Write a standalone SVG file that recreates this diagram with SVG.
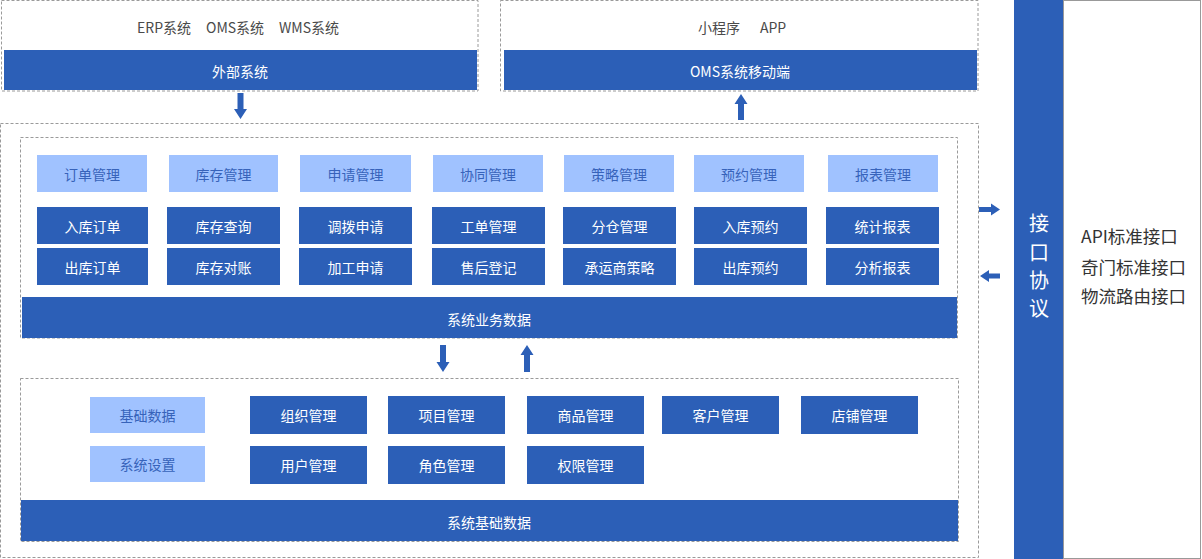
<svg xmlns="http://www.w3.org/2000/svg" width="1202" height="559" viewBox="0 0 1202 559">
<style>
text{font-family:"Noto Sans CJK SC","Liberation Sans",sans-serif;font-size:14px;text-anchor:middle;dominant-baseline:central}
.dash{fill:none;stroke:#9a9a9a;stroke-width:1;stroke-dasharray:3 2}
.b{fill:#2C5FB7}
.l{fill:#A0C2FF}
.bt{fill:#ffffff}
.lt{fill:#3763BA}
.gt{fill:#4a4a4a}
.it{text-anchor:start;font-size:17.5px;fill:#333333}
.vt{fill:#ffffff;font-size:20px}
.arr{fill:#2C5FB7}
</style>
<rect width="1202" height="559" fill="#ffffff"/>

<g id="external">
<rect class="dash" x="1.5" y="0.5" width="476.5" height="90.5"/>
<text class="gt" x="137" y="27" style="text-anchor:start">ERP系统</text>
<text class="gt" x="206" y="27" style="text-anchor:start">OMS系统</text>
<text class="gt" x="279" y="27" style="text-anchor:start">WMS系统</text>
<rect class="b" x="4" y="50" width="473" height="40"/>
<text class="bt" x="240" y="71">外部系统</text>
</g>

<g id="mobile">
<rect class="dash" x="500.5" y="0.5" width="477.5" height="90.5"/>
<text class="gt" x="698" y="27" style="text-anchor:start">小程序</text>
<text class="gt" x="760" y="27" style="text-anchor:start">APP</text>
<rect class="b" x="504" y="50" width="473" height="40"/>
<text class="bt" x="740" y="71">OMS系统移动端</text>
</g>

<g id="protocol">
<rect class="b" x="1014" y="0" width="49" height="559"/>
<text class="vt" x="1039" y="222">接</text>
<text class="vt" x="1039" y="251">口</text>
<text class="vt" x="1039" y="279">协</text>
<text class="vt" x="1039" y="307">议</text>
</g>

<g id="interfaces">
<rect x="1063.5" y="0.5" width="137" height="558" fill="none" stroke="#999999" stroke-width="1"/>
<text class="it" x="1081" y="235">API标准接口</text>
<text class="it" x="1081" y="266">奇门标准接口</text>
<text class="it" x="1081" y="295">物流路由接口</text>
</g>

<g id="platform">
<rect class="dash" x="0.5" y="123.5" width="978" height="434"/>
</g>

<g id="business">
<rect class="dash" x="20.5" y="137.5" width="937" height="200.5"/>
<g id="h-order"><rect class="l" x="37" y="155" width="110" height="37"/><text class="lt" x="92" y="174">订单管理</text></g>
<g id="h-stock"><rect class="l" x="169" y="155" width="109" height="37"/><text class="lt" x="223.5" y="174">库存管理</text></g>
<g id="h-apply"><rect class="l" x="300" y="155" width="111" height="37"/><text class="lt" x="355.5" y="174">申请管理</text></g>
<g id="h-coop"><rect class="l" x="433" y="155" width="110" height="37"/><text class="lt" x="488" y="174">协同管理</text></g>
<g id="h-strategy"><rect class="l" x="564" y="155" width="110" height="37"/><text class="lt" x="619" y="174">策略管理</text></g>
<g id="h-booking"><rect class="l" x="694" y="155" width="110" height="37"/><text class="lt" x="749" y="174">预约管理</text></g>
<g id="h-report"><rect class="l" x="828" y="155" width="110" height="37"/><text class="lt" x="883" y="174">报表管理</text></g>

<g id="n-inorder"><rect class="b" x="37" y="207" width="111" height="37"/><text class="bt" x="92.5" y="226">入库订单</text></g>
<g id="n-stockq"><rect class="b" x="167" y="207" width="113" height="37"/><text class="bt" x="223.5" y="226">库存查询</text></g>
<g id="n-transfer"><rect class="b" x="299" y="207" width="113" height="37"/><text class="bt" x="355.5" y="226">调拨申请</text></g>
<g id="n-workorder"><rect class="b" x="432" y="207" width="113" height="37"/><text class="bt" x="488.5" y="226">工单管理</text></g>
<g id="n-split"><rect class="b" x="563" y="207" width="113" height="37"/><text class="bt" x="619.5" y="226">分仓管理</text></g>
<g id="n-inbook"><rect class="b" x="694" y="207" width="113" height="37"/><text class="bt" x="750.5" y="226">入库预约</text></g>
<g id="n-stat"><rect class="b" x="826" y="207" width="113" height="37"/><text class="bt" x="882.5" y="226">统计报表</text></g>

<g id="n-outorder"><rect class="b" x="37" y="248" width="111" height="37"/><text class="bt" x="92.5" y="267">出库订单</text></g>
<g id="n-reconcile"><rect class="b" x="167" y="248" width="113" height="37"/><text class="bt" x="223.5" y="267">库存对账</text></g>
<g id="n-process"><rect class="b" x="299" y="248" width="113" height="37"/><text class="bt" x="355.5" y="267">加工申请</text></g>
<g id="n-aftersale"><rect class="b" x="432" y="248" width="113" height="37"/><text class="bt" x="488.5" y="267">售后登记</text></g>
<g id="n-carrier"><rect class="b" x="563" y="248" width="113" height="37"/><text class="bt" x="619.5" y="267">承运商策略</text></g>
<g id="n-outbook"><rect class="b" x="694" y="248" width="113" height="37"/><text class="bt" x="750.5" y="267">出库预约</text></g>
<g id="n-analysis"><rect class="b" x="826" y="248" width="113" height="37"/><text class="bt" x="882.5" y="267">分析报表</text></g>

<g id="bizdata"><rect class="b" x="22" y="297" width="935" height="41"/><text class="bt" x="489" y="319">系统业务数据</text></g>
</g>

<g id="base">
<rect class="dash" x="20.5" y="378.5" width="938" height="163"/>
<g id="h-basedata"><rect class="l" x="90" y="397" width="115" height="36"/><text class="lt" x="147.5" y="415">基础数据</text></g>
<g id="h-settings"><rect class="l" x="90" y="446" width="115" height="36"/><text class="lt" x="147.5" y="464">系统设置</text></g>
<g id="n-org"><rect class="b" x="250" y="396" width="117" height="38"/><text class="bt" x="308.5" y="415">组织管理</text></g>
<g id="n-project"><rect class="b" x="388" y="396" width="117" height="38"/><text class="bt" x="446.5" y="415">项目管理</text></g>
<g id="n-goods"><rect class="b" x="527" y="396" width="117" height="38"/><text class="bt" x="585.5" y="415">商品管理</text></g>
<g id="n-customer"><rect class="b" x="662" y="396" width="117" height="38"/><text class="bt" x="720.5" y="415">客户管理</text></g>
<g id="n-shop"><rect class="b" x="801" y="396" width="117" height="38"/><text class="bt" x="859.5" y="415">店铺管理</text></g>
<g id="n-user"><rect class="b" x="250" y="446" width="117" height="38"/><text class="bt" x="308.5" y="465">用户管理</text></g>
<g id="n-role"><rect class="b" x="388" y="446" width="117" height="38"/><text class="bt" x="446.5" y="465">角色管理</text></g>
<g id="n-perm"><rect class="b" x="527" y="446" width="117" height="38"/><text class="bt" x="585.5" y="465">权限管理</text></g>
<g id="basedata"><rect class="b" x="21" y="500" width="937" height="41"/><text class="bt" x="489" y="522">系统基础数据</text></g>
</g>

<g id="connectors">
<polygon class="arr" points="237.5,93 243.5,93 243.5,109 247,109 240.5,119 234,109 237.5,109"/>
<polygon class="arr" points="738,120 744,120 744,104 747.5,104 741,94 734.5,104 738,104"/>
<polygon class="arr" points="440,345 446,345 446,362 449.5,362 443,372 436.5,362 440,362"/>
<polygon class="arr" points="524,372 530,372 530,355 533.5,355 527,345 520.5,355 524,355"/>
<polygon class="arr" points="979,207 991,207 991,203.5 1000,209.5 991,215.5 991,212 979,212"/>
<polygon class="arr" points="1000,273.5 989,273.5 989,270 980,276 989,282 989,278.5 1000,278.5"/>
</g>
</svg>
